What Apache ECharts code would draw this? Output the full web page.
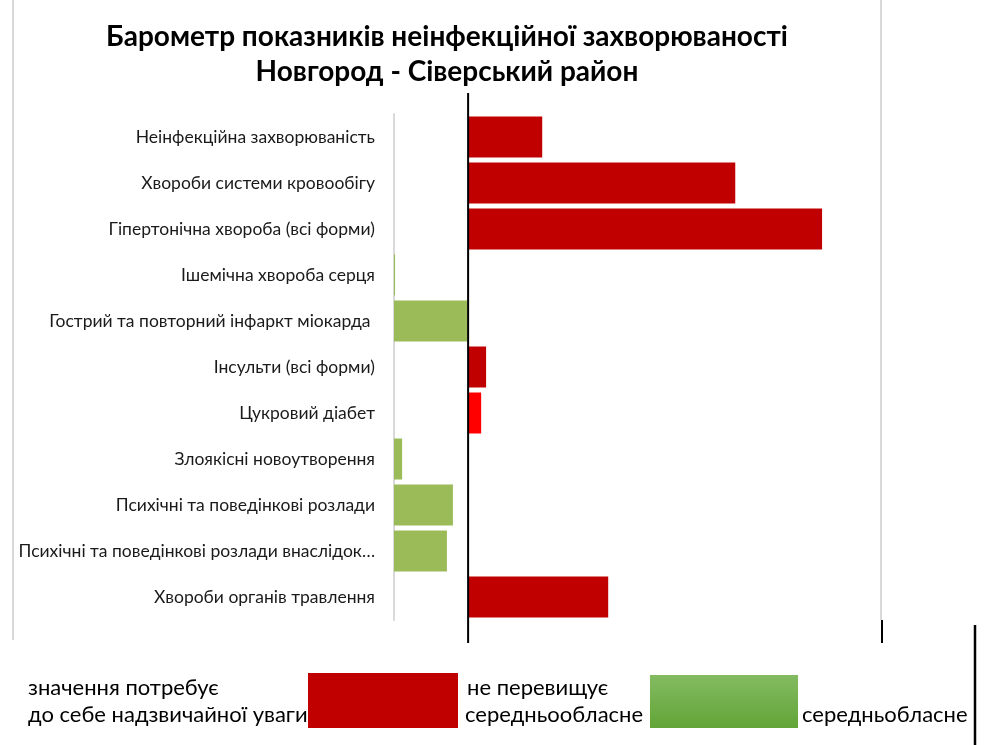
<!DOCTYPE html>
<html>
<head>
<meta charset="utf-8">
<script src="https://cdn.jsdelivr.net/npm/echarts@6/dist/echarts.min.js"></script>
<style>
  html, body { margin: 0; padding: 0; background: #fff; }
  #chart { width: 1000px; height: 745px; }
</style>
</head>
<body>
<div id="chart"></div>
<script>
// категорії зверху вниз
var categories = [
    'Неінфекційна захворюваність',
    'Хвороби системи кровообігу',
    'Гіпертонічна хвороба (всі форми)',
    'Ішемічна хвороба серця',
    'Гострий та повторний інфаркт міокарда ',
    'Інсульти (всі форми)',
    'Цукровий діабет',
    'Злоякісні новоутворення',
    'Психічні та поведінкові розлади',
    'Психічні та поведінкові розлади внаслідок…',
    'Хвороби органів травлення'
];
// перевищує середньообласне (червоні)
var redValues = [21.0, 75.7, 100.3, null, null, 5.1, 3.7, null, null, null, 39.7];
// не перевищує (зелені)
var greenValues = [null, null, null, 0.3, 20.7, null, null, 2.3, 16.7, 15.0, null];
var axisMin = -21, axisMax = 117;

var FONT = 'Lato, "Open Sans", sans-serif';
var myChart = echarts.init(document.getElementById('chart'));

// прозора основа, щоб зелені смуги починались від лівого краю
var baseValues = greenValues.map(function(v){ return v == null ? null : axisMin; });

var option = {
    animation: false,
    title: {
        text: 'Барометр показників неінфекційної захворюваності\nНовгород - Сіверський район',
        left: 447,
        textAlign: 'center',
        top: 19,
        padding: 0,
        textStyle: { fontFamily: FONT, fontWeight: 'bold', fontSize: 28, lineHeight: 35, color: '#000' }
    },
    grid: { left: 394, right: 119, top: 114, bottom: 125 },
    xAxis: {
        type: 'value',
        min: axisMin,
        max: axisMax,
        show: false
    },
    yAxis: {
        type: 'category',
        inverse: true,
        data: categories,
        axisLine: { onZero: false, lineStyle: { color: '#D9D9D9', width: 2 } },
        axisTick: { show: false },
        axisLabel: { fontFamily: FONT, fontSize: 17.5, color: '#1a1a1a', margin: 19 }
    },
    series: [
        {
            name: 'base', type: 'bar', stack: 'g', stackStrategy: 'all',
            barWidth: 41, barGap: '-100%', silent: true,
            itemStyle: { color: 'rgba(0,0,0,0)' },
            data: baseValues
        },
        {
            name: 'green', type: 'bar', stack: 'g', stackStrategy: 'all',
            barWidth: 41, barGap: '-100%',
            itemStyle: { color: '#9BBB59' },
            data: greenValues
        },
        {
            name: 'red', type: 'bar',
            barWidth: 41, barGap: '-100%',
            itemStyle: {
                color: function(p){ return p.name == 'Цукровий діабет' ? '#FF0000' : '#C00000'; }
            },
            data: redValues
        }
    ]
};
myChart.setOption(option);

// нульова вісь та рамка
var x0 = myChart.convertToPixel({ xAxisIndex: 0 }, 0);
var legendFont = '22px ' + FONT;
myChart.setOption({
    graphic: [
        { type: 'line', shape: { x1: 13, y1: 0, x2: 13, y2: 640 }, style: { stroke: '#D9D9D9', lineWidth: 2 } },
        { type: 'line', shape: { x1: 881, y1: 0, x2: 881, y2: 620 }, style: { stroke: '#D9D9D9', lineWidth: 2 } },
        { type: 'line', shape: { x1: 882, y1: 620, x2: 882, y2: 643 }, style: { stroke: '#000', lineWidth: 2 } },
        { type: 'line', shape: { x1: 975, y1: 625, x2: 975, y2: 745 }, style: { stroke: '#000', lineWidth: 2.5 } },
        { type: 'line', z: 10, shape: { x1: x0, y1: 93, x2: x0, y2: 643 }, style: { stroke: '#000', lineWidth: 2 } },
        // легенда
        { type: 'text', left: 28, top: 677, style: { text: 'значення потребує', font: legendFont, fill: '#000' } },
        { type: 'text', left: 28, top: 704, style: { text: 'до себе надзвичайної уваги', font: legendFont, fill: '#000' } },
        { type: 'rect', shape: { x: 308, y: 673, width: 150, height: 55 }, style: { fill: '#C00000' } },
        { type: 'text', left: 467, top: 677, style: { text: 'не перевищує', font: legendFont, fill: '#000' } },
        { type: 'text', left: 465, top: 704, style: { text: 'середньообласне', font: legendFont, fill: '#000' } },
        { type: 'rect', shape: { x: 650, y: 675, width: 148, height: 53 },
          style: { fill: new echarts.graphic.LinearGradient(0, 0, 0, 1, [
              { offset: 0, color: '#84BB62' }, { offset: 1, color: '#62A537' }]) } },
        { type: 'text', left: 802, top: 704, style: { text: 'середньобласне', font: legendFont, fill: '#000' } }
    ]
});
</script>
</body>
</html>
